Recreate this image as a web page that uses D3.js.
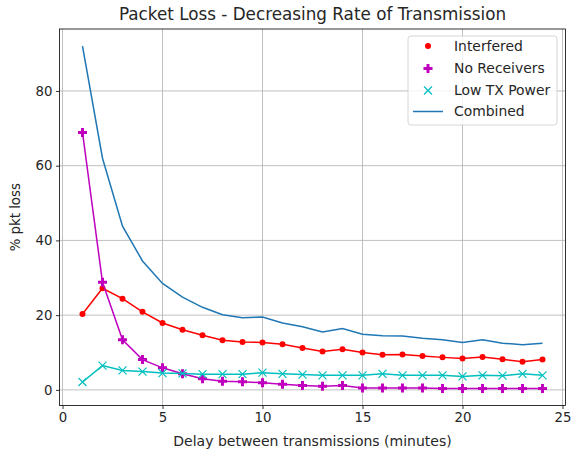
<!DOCTYPE html>
<html>
<head>
<meta charset="utf-8">
<script src="https://cdn.jsdelivr.net/npm/d3@7"></script>
<style>
  body { margin: 0; background: #fff; }
  text { font-family: "DejaVu Sans", sans-serif; fill: #262626; }
</style>
</head>
<body>
<script>
const svgWidth = 571;
const svgHeight = 453;

// data
const delays = [1,2,3,4,5,6,7,8,9,10,11,12,13,14,15,16,17,18,19,20,21,22,23,24];
const interfered = [20.3,27.2,24.4,20.9,17.9,16.1,14.6,13.3,12.8,12.7,12.2,11.2,10.3,10.9,10.0,9.4,9.5,9.1,8.7,8.4,8.8,8.2,7.5,8.1];
const noReceivers = [68.9,28.8,13.4,8.1,5.9,4.3,3.0,2.3,2.2,1.9,1.5,1.2,1.0,1.2,0.5,0.5,0.5,0.5,0.4,0.4,0.4,0.4,0.4,0.4];
const lowTxPower = [2.1,6.5,5.2,4.9,4.5,4.4,4.2,4.2,4.2,4.6,4.3,4.1,3.9,3.9,3.9,4.3,3.9,3.9,3.9,3.6,3.9,3.8,4.3,3.9];
const combined = [92.0,62.0,43.8,34.5,28.5,24.8,22.1,20.1,19.3,19.5,17.9,16.9,15.5,16.4,14.9,14.5,14.4,13.8,13.4,12.7,13.4,12.5,12.1,12.5];
const xTicks = [0,5,10,15,20,25];
const yTicks = [0,20,40,60,80];
const seriesNames = ["Interfered", "No Receivers", "Low TX Power", "Combined"];

const margin = {left: 59.5, right: 5.5, top: 29, bottom: 47.5};
const plotW = svgWidth - margin.left - margin.right;
const plotH = svgHeight - margin.top - margin.bottom;
const fontSize = "13.3px";

const svg = d3.select("body").append("svg")
            .attr("width", svgWidth)
            .attr("height", svgHeight);

// matplotlib-like 5% margins
const allY = interfered.concat(noReceivers, lowTxPower, combined);
const yMin = d3.min(allY), yMax = d3.max(allY);
const yPad = (yMax - yMin) * 0.05;
const xPad = (d3.max(delays) - d3.min(delays)) * 0.05;

var xScale = d3.scaleLinear().domain([d3.min(delays) - xPad, d3.max(delays) + xPad]).range([0, plotW]);
var yScale = d3.scaleLinear().domain([yMin - yPad, yMax + yPad]).range([plotH, 0]);

const g = svg.append("g").attr("transform", "translate(" + margin.left + "," + margin.top + ")");

// grid
xTicks.forEach(t => {
  g.append("line")
   .attr("x1", xScale(t)).attr("x2", xScale(t))
   .attr("y1", 0).attr("y2", plotH)
   .attr("stroke", "#b0b0b0").attr("stroke-width", 0.8);
});
yTicks.forEach(t => {
  g.append("line")
   .attr("x1", 0).attr("x2", plotW)
   .attr("y1", yScale(t)).attr("y2", yScale(t))
   .attr("stroke", "#b0b0b0").attr("stroke-width", 0.8);
});

// axes
var x_axis = d3.axisBottom(xScale).tickValues(xTicks).tickSize(3.5).tickPadding(3.5);
var y_axis = d3.axisLeft(yScale).tickValues(yTicks).tickSize(3.5).tickPadding(3.5);
const gx = g.append("g").attr("transform", "translate(0," + plotH + ")").call(x_axis);
const gy = g.append("g").call(y_axis);
[gx, gy].forEach(a => {
  a.select(".domain").remove();
  a.selectAll("line").attr("stroke", "#000").attr("stroke-width", 0.8);
  a.selectAll("text").style("font-size", fontSize).style("font-family", "DejaVu Sans, sans-serif").attr("fill", "#262626");
});

// spines
g.append("rect")
 .attr("x", 0).attr("y", 0).attr("width", plotW).attr("height", plotH)
 .attr("fill", "none").attr("stroke", "#000").attr("stroke-width", 0.8);

const line = d3.line()
             .x((d, i) => xScale(delays[i]))
             .y(d => yScale(d));

function plusPath(s) {
  const a = s, b = s / 3;
  return "M" + (-a) + "," + (-b) + "H" + (-b) + "V" + (-a) + "H" + b + "V" + (-b) + "H" + a +
         "V" + b + "H" + b + "V" + a + "H" + (-b) + "V" + b + "H" + (-a) + "Z";
}

// Interfered
g.append("path").attr("d", line(interfered)).attr("fill", "none").attr("stroke", "#ff0000").attr("stroke-width", 1.5);
g.selectAll(".ptI").data(interfered).enter().append("circle")
 .attr("cx", (d, i) => xScale(delays[i])).attr("cy", d => yScale(d))
 .attr("r", 3).attr("fill", "#ff0000");

// No Receivers
g.append("path").attr("d", line(noReceivers)).attr("fill", "none").attr("stroke", "#bf00bf").attr("stroke-width", 1.5);
g.selectAll(".ptN").data(noReceivers).enter().append("path")
 .attr("d", plusPath(4.5))
 .attr("transform", (d, i) => "translate(" + xScale(delays[i]) + "," + yScale(d) + ")")
 .attr("fill", "#bf00bf");

// Low TX Power
g.append("path").attr("d", line(lowTxPower)).attr("fill", "none").attr("stroke", "#00bfbf").attr("stroke-width", 1.5);
g.selectAll(".ptL").data(lowTxPower).enter().append("path")
 .attr("d", "M-4,-4L4,4M-4,4L4,-4")
 .attr("transform", (d, i) => "translate(" + xScale(delays[i]) + "," + yScale(d) + ")")
 .attr("stroke", "#00bfbf").attr("stroke-width", 1.2).attr("fill", "none");

// Combined
g.append("path").attr("d", line(combined)).attr("fill", "none").attr("stroke", "#1f77b4").attr("stroke-width", 1.5);

// title and labels
svg.append("text")
   .attr("x", margin.left + plotW / 2).attr("y", 20)
   .attr("text-anchor", "middle")
   .style("font-size", "16.8px")
   .text("Packet Loss - Decreasing Rate of Transmission");
svg.append("text")
   .attr("x", margin.left + plotW / 2).attr("y", 446)
   .attr("text-anchor", "middle")
   .style("font-size", "14px")
   .text("Delay between transmissions (minutes)");
svg.append("text")
   .attr("transform", "translate(20," + (margin.top + plotH / 2) + ") rotate(-90)")
   .attr("text-anchor", "middle")
   .style("font-size", fontSize)
   .text("% pkt loss");

// legend
const legend = svg.append("g").attr("transform", "translate(408,36)");
legend.append("rect")
      .attr("width", 149).attr("height", 89).attr("rx", 3)
      .attr("fill", "#fff").attr("fill-opacity", 0.8)
      .attr("stroke", "#cccccc").attr("stroke-width", 0.8);
const rowY = [10, 32.5, 54.5, 75.5];
seriesNames.forEach((name, i) => {
  const row = legend.append("g").attr("transform", "translate(0," + rowY[i] + ")");
  if (i === 0) row.append("circle").attr("cx", 20).attr("cy", 0).attr("r", 3).attr("fill", "#ff0000");
  if (i === 1) row.append("path").attr("d", plusPath(4.5)).attr("transform", "translate(20,0)").attr("fill", "#bf00bf");
  if (i === 2) row.append("path").attr("d", "M-4,-4L4,4M-4,4L4,-4").attr("transform", "translate(20,0)")
                  .attr("stroke", "#00bfbf").attr("stroke-width", 1.2);
  if (i === 3) row.append("line").attr("x1", 5).attr("x2", 35).attr("y1", 0).attr("y2", 0)
                  .attr("stroke", "#1f77b4").attr("stroke-width", 1.5);
  row.append("text").attr("x", 46).attr("y", 0).attr("dy", "0.35em")
     .style("font-size", "13.9px").text(name);
});
</script>
</body>
</html>
